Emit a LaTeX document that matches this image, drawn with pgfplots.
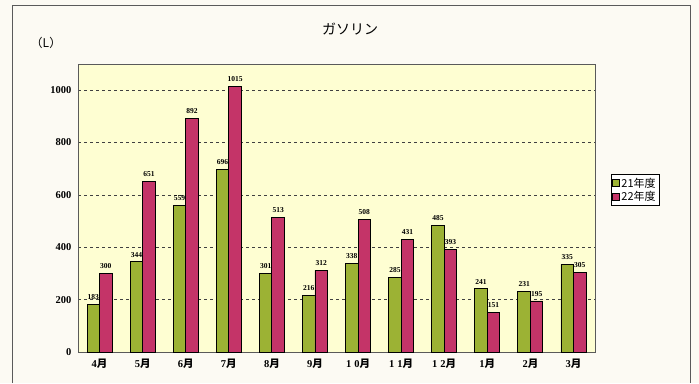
\documentclass[border=0pt]{standalone}
\usepackage{pgfplots}
\pgfplotsset{compat=1.18}
\usepackage{fontspec}
\setmainfont{Liberation Serif}
\newfontfamily\cjk{Noto Sans CJK JP}
\definecolor{paper}{RGB}{252,250,243}
\definecolor{plotbg}{RGB}{254,254,210}
\definecolor{bargreen}{RGB}{156,178,52}
\definecolor{barred}{RGB}{196,52,104}
\definecolor{frame}{RGB}{90,90,90}
\begin{document}
\begin{tikzpicture}[x=1pt,y=1pt]
\fill[paper] (0,0) rectangle (699,-383);
\draw[frame, line width=0.8pt] (12,-383) -- (12,-5) -- (690,-5) -- (690,-383);
\node[font=\cjk\fontsize{14}{14}\selectfont] at (350,-29) {ガソリン};
\node[font=\cjk\fontsize{12}{12}\selectfont] at (46,-43) {（L）};
\begin{axis}[
  at={(78pt,-352pt)}, anchor=south west,
  scale only axis, width=517pt, height=288pt,
  axis background/.style={fill=plotbg},
  axis line style={frame, line width=0.8pt},
  ymin=0, ymax=1100, xmin=-0.5, xmax=11.5,
  ytick={0,200,400,600,800,1000},
  ymajorgrids, major grid style={black!75, dashed, line width=0.6pt},
  xtick={0,...,11},
  xticklabels={4{\cjk 月},5{\cjk 月},6{\cjk 月},7{\cjk 月},8{\cjk 月},9{\cjk 月},1\hspace{3pt}0{\cjk 月},1\hspace{3pt}1{\cjk 月},1\hspace{3pt}2{\cjk 月},1{\cjk 月},2{\cjk 月},3{\cjk 月}},
  major x tick style={draw=none},
  extra x ticks={0.5,1.5,2.5,3.5,4.5,5.5,6.5,7.5,8.5,9.5,10.5},
  extra x tick labels={},
  extra x tick style={major tick length=4pt, tick style={frame, line width=0.6pt}, grid=none},
  major tick length=0pt,
  ytick style={draw=none},
  tick label style={font=\bfseries\fontsize{10.5}{10.5}\selectfont},
  /pgf/number format/assume math mode=true,
  /pgf/number format/set thousands separator={},
  yticklabel style={xshift=-3pt},
  xticklabel style={yshift=-3pt},
  ybar=0pt, bar width=12.5pt,
  nodes near coords,
  every node near coord/.append style={font=\bfseries\fontsize{7.5}{7.5}\selectfont, yshift=1pt},
  legend style={at={(1.03,0.5625)}, anchor=west, draw=black, line width=0.6pt, fill=white,
    font=\cjk\fontsize{11}{11}\selectfont, inner sep=1.5pt, row sep=-1pt},
  legend image code/.code={\draw[#1, line width=0.6pt] (0pt,-3pt) rectangle (6.5pt,3.5pt);},
  clip=false,
]
\addplot[fill=bargreen, draw=black, line width=0.9pt] coordinates {
(0,183) (1,344) (2,559) (3,696) (4,301) (5,216) (6,338) (7,285) (8,485) (9,241) (10,231) (11,335)};
\addplot[fill=barred, draw=black, line width=0.9pt] coordinates {
(0,300) (1,651) (2,892) (3,1015) (4,513) (5,312) (6,508) (7,431) (8,393) (9,151) (10,195) (11,305)};
\legend{21年度,22年度}
\end{axis}
\end{tikzpicture}
\end{document}
